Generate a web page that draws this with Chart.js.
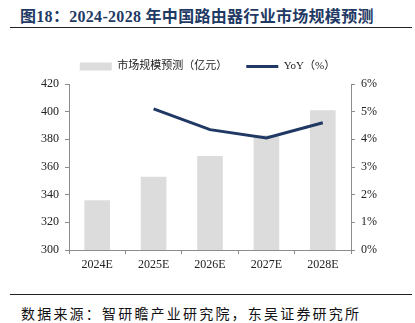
<!DOCTYPE html>
<html lang="zh">
<head>
    <meta charset="UTF-8">
    <title>2024-2028年中国路由器行业市场规模预测</title>
    <script src="https://cdn.jsdelivr.net/npm/chart.js"></script>
    <style>
        body {
            margin: 0;
            width: 415px;
            height: 323px;
            background: #fff;
            position: relative;
            overflow: hidden;
            font-family: "Liberation Serif", "Noto Sans CJK SC", serif;
        }
        .title {
            position: absolute;
            left: 20px;
            top: 3px;
            font-size: 16px;
            font-weight: bold;
            color: #1f3a64;
            white-space: nowrap;
            letter-spacing: 0.3px;
        }
        .rule {
            position: absolute;
            left: 10px;
            width: 402px;
            height: 0;
            border-top: 1.5px solid #222;
        }
        .source {
            position: absolute;
            left: 21px;
            top: 303px;
            font-family: "Noto Sans CJK SC", sans-serif;
            font-size: 14px;
            letter-spacing: 2.2px;
            color: #111;
            white-space: nowrap;
        }
        .chart-box {
            position: absolute;
            left: 0;
            top: 30px;
            width: 415px;
            height: 260px;
        }
    </style>
</head>
<body>

    <div class="title">图18：2024-2028 年中国路由器行业市场规模预测</div>
    <div class="rule" style="top: 27px;"></div>

    <div class="chart-box">
        <canvas id="routerChart" width="415" height="260"></canvas>
    </div>

    <div class="rule" style="top: 294px;"></div>
    <div class="source">数据来源：智研瞻产业研究院，东吴证券研究所</div>

    <script>
        // data
        const years = ["2024E", "2025E", "2026E", "2027E", "2028E"];
        const marketSize = [336, 353, 368, 383, 401];       // 亿元
        const yoy = [null, 5.1, 4.35, 4.05, 4.6];            // %
        const leftTicks = [300, 320, 340, 360, 380, 400, 420];
        const rightTicks = [0, 1, 2, 3, 4, 5, 6];

        const navy = "#1f3864";
        const axisGrey = "#8c8c8c";
        const tickFont = { family: "Liberation Serif", size: 12 };

        // pin the legend height so the plot starts where the reference does
        const legendHeight = {
            id: "legendHeight",
            beforeInit(chart) {
                const fit = chart.legend.fit;
                chart.legend.fit = function () {
                    fit.bind(chart.legend)();
                    this.height = 42;
                };
            }
        };

        const ctx = document.getElementById("routerChart").getContext("2d");
        new Chart(ctx, {
            type: "bar",
            data: {
                labels: years,
                datasets: [
                    {
                        label: "市场规模预测（亿元）",
                        data: marketSize,
                        backgroundColor: "#dcdcdc",
                        borderWidth: 0,
                        categoryPercentage: 1,
                        barPercentage: 0.455,
                        yAxisID: "y",
                        order: 2
                    },
                    {
                        type: "line",
                        label: "YoY（%）",
                        data: yoy,
                        borderColor: navy,
                        backgroundColor: navy,
                        borderWidth: 3,
                        pointRadius: 0,
                        tension: 0,
                        yAxisID: "y1",
                        order: 1
                    }
                ]
            },
            plugins: [legendHeight],
            options: {
                responsive: false,
                animation: false,
                layout: { padding: { top: 12, left: 0, right: 0, bottom: 0 } },
                plugins: {
                    tooltip: { enabled: false },
                    legend: {
                        position: "top",
                        labels: {
                            usePointStyle: true,
                            pointStyleWidth: 32,
                            boxHeight: 8,
                            padding: 19,
                            color: "#222",
                            font: { family: "'Liberation Serif', 'Noto Sans CJK SC'", size: 11 },
                            generateLabels(chart) {
                                const items = Chart.defaults.plugins.legend.labels.generateLabels(chart);
                                items.sort((a, b) => a.datasetIndex - b.datasetIndex);
                                items.forEach(item => {
                                    if (item.datasetIndex === 0) {
                                        item.pointStyle = "rect";
                                        item.lineWidth = 0;
                                    } else {
                                        item.pointStyle = "line";
                                        item.lineWidth = 3;
                                    }
                                });
                                return items;
                            }
                        }
                    }
                },
                scales: {
                    x: {
                        grid: { drawOnChartArea: false, drawTicks: true, tickLength: 4, color: axisGrey },
                        border: { color: axisGrey },
                        ticks: { color: "#222", font: tickFont, padding: 4 },
                        afterFit(scale) { scale.height = 40; }
                    },
                    y: {
                        position: "left",
                        min: 300,
                        max: 420,
                        afterBuildTicks(scale) { scale.ticks = leftTicks.map(v => ({ value: v })); },
                        grid: { drawOnChartArea: false, tickLength: 4, color: axisGrey },
                        border: { color: axisGrey },
                        ticks: { color: "#222", font: tickFont, padding: 6 },
                        afterFit(scale) { scale.width = 69; }
                    },
                    y1: {
                        position: "right",
                        min: 0,
                        max: 6,
                        afterBuildTicks(scale) { scale.ticks = rightTicks.map(v => ({ value: v })); },
                        grid: { drawOnChartArea: false, tickLength: 4, color: axisGrey },
                        border: { color: axisGrey },
                        ticks: {
                            color: "#222",
                            font: tickFont,
                            padding: 6,
                            callback: v => v + "%"
                        },
                        afterFit(scale) { scale.width = 64; }
                    }
                }
            }
        });
    </script>

</body>
</html>
